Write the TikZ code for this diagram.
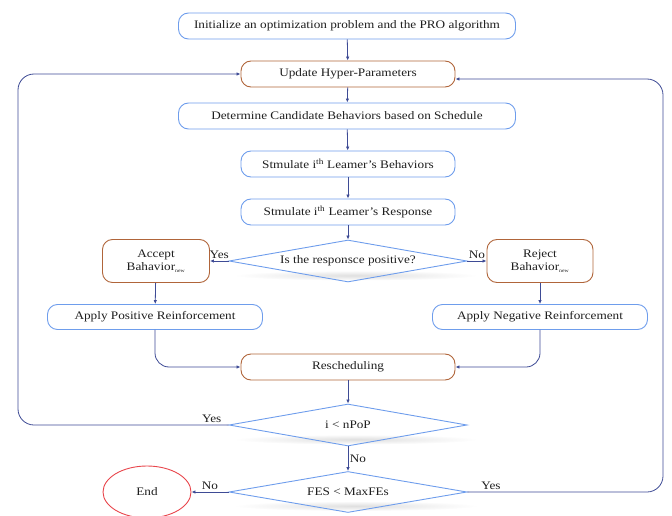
\documentclass[tikz,border=0pt]{standalone}
\usepackage{fontspec}
\setmainfont{Liberation Serif}[FakeStretch=1.15]
\usetikzlibrary{shapes.geometric,arrows.meta,backgrounds}
\definecolor{problue}{HTML}{6E9DEC}
\definecolor{probrown}{HTML}{B0653A}
\definecolor{proarrow}{HTML}{3E4B95}
\definecolor{prored}{HTML}{E8464C}
\definecolor{proink}{HTML}{1E1E1E}
\tikzset{
  pro box/.style={rectangle, rounded corners=10pt, draw=problue,
    line width=0.9pt, inner sep=0pt, text=proink,
    font=\fontsize{11.5}{13}\selectfont},
  pro step/.style={pro box, draw=probrown},
  pro decision/.style={diamond, aspect=5.6, draw=problue, line width=0.9pt,
    inner sep=0pt, minimum width=238pt, minimum height=42pt, text=proink,
    font=\fontsize{11.5}{13}\selectfont},
  pro end/.style={ellipse, draw=prored, line width=0.9pt, inner sep=0pt,
    minimum width=88pt, minimum height=52pt, text=proink,
    font=\fontsize{11.5}{13}\selectfont},
  pro link/.style={draw=proarrow, line width=0.8pt,
    -{Latex[length=4pt,width=3.5pt]}},
  branch label/.style={font=\fontsize{11.5}{13}\selectfont, text=proink,
    inner sep=1.5pt},
  pro shadow/.style={inner color=gray!25, outer color=white},
}

\begin{document}
\begin{tikzpicture}[x=1pt, y=-1pt]
  \useasboundingbox (0,0) rectangle (672,516);

  % main column
  \node[pro box, minimum width=337pt, minimum height=26pt] (init) at (347,26)
    {Initialize an optimization problem and the PRO algorithm};
  \node[pro step, minimum width=214pt, minimum height=26pt] (upd) at (348,74)
    {Update Hyper-Parameters};
  \node[pro box, minimum width=337pt, minimum height=26pt] (cand) at (347,116)
    {Determine Candidate Behaviors based on Schedule};
  \node[pro box, minimum width=214pt, minimum height=26pt] (stimb) at (348,164)
    {Stmulate i\textsuperscript{th} Leamer's Behaviors};
  \node[pro box, minimum width=214pt, minimum height=26pt] (stimr) at (348,212)
    {Stmulate i\textsuperscript{th} Leamer's Response};
  \node[pro decision] (resp) at (348,261) {Is the responsce positive?};

  % the two branches
  \node[pro step, minimum width=107pt, minimum height=43pt, align=center]
    (accept) at (156,261) {Accept\\Bahavior\textsubscript{\tiny new}};
  \node[pro step, minimum width=106pt, minimum height=43pt, align=center]
    (reject) at (540,261) {Reject\\Bahavior\textsubscript{\tiny new}};
  \node[pro box, minimum width=215pt, minimum height=25pt] (applyp) at (155,317)
    {Apply Positive Reinforcement};
  \node[pro box, minimum width=215pt, minimum height=25pt] (applyn) at (540,317)
    {Apply Negative Reinforcement};

  \node[pro step, minimum width=214pt, minimum height=26pt] (resch) at (348,367)
    {Rescheduling};
  \node[pro decision] (iloop) at (348,425) {i < nPoP};
  \node[pro decision, minimum height=41pt] (fes) at (348,492) {FES < MaxFEs};
  \node[pro end] (end) at (147,492) {End};

  \coordinate (lft) at (18,425);
  \coordinate (rgt) at (663,492);

  \begin{scope}[on background layer]
    \foreach \d in {resp,iloop,fes}
      \shade[pro shadow] ([xshift=8pt,yshift=7pt]\d.south) ellipse (122 and 5);
  \end{scope}

  \draw[pro link] (init) -- (upd);
  \draw[pro link] (upd) -- (cand);
  \draw[pro link] (cand) -- (stimb);
  \draw[pro link] (stimb) -- (stimr);
  \draw[pro link] (stimr) -- (resp);
  \draw[pro link] (resp.west) -- node[branch label, above] {Yes} (accept.east);
  \draw[pro link] (resp.east) -- node[branch label, above] {No} (reject.west);
  \draw[pro link] (accept) -- (applyp);
  \draw[pro link] (reject) -- (applyn);
  \draw[pro link, rounded corners=14pt] (applyp.south) |- (resch.west);
  \draw[pro link, rounded corners=14pt] (applyn.south) |- (resch.east);
  \draw[pro link] (resch) -- (iloop);
  \draw[pro link, rounded corners=16pt] (iloop.west)
    -- node[branch label, above, pos=0.08] {Yes} (lft) |- (upd.west);
  \draw[pro link] (iloop) -- node[branch label, right] {No} (fes);
  \draw[pro link] (fes.west) -- node[branch label, above] {No} (end.east);
  \draw[pro link, rounded corners=16pt] (fes.east)
    -- node[branch label, above, pos=0.12] {Yes} (rgt) |- ([yshift=-5pt]upd.east);
\end{tikzpicture}
\end{document}
